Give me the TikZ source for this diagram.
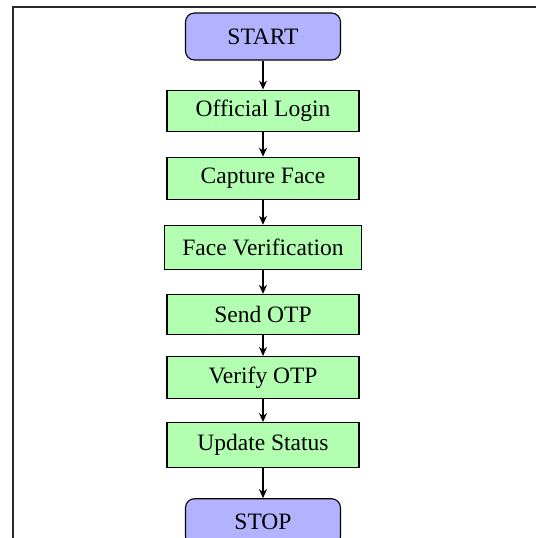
\documentclass[tikz,border=0pt]{standalone}
\usepackage{fontspec}
\setmainfont{Liberation Serif}
\usetikzlibrary{positioning,arrows.meta}
\definecolor{myviolet}{RGB}{178,178,255}
\definecolor{mygreen}{RGB}{178,255,178}
\definecolor{myframe}{RGB}{40,40,40}

\begin{document}
\begin{tikzpicture}[x=1pt,y=1pt,line width=1.1pt,
  font=\fontsize{23.5}{27}\selectfont,
  term/.style={draw,fill=myviolet,rounded corners=9pt,minimum width=155pt,minimum height=47pt},
  proc/.style={draw,fill=mygreen,minimum width=192pt,minimum height=42pt},
  flow/.style={-{Stealth[length=9pt,width=8pt]}}]

  \useasboundingbox (0,0) rectangle (536,-538);
  \draw[myframe,line width=1.5pt] (13,-538) -- (13,-7) -- (536,-7);

  \node[term] (start) at (263,-36.5) {START};
  \node[proc,below=29pt of start,minimum height=41pt] (login) {Official Login};
  \node[proc,below=25pt of login] (capture) {Capture Face};
  \node[proc,below=25pt of capture,minimum width=197pt,minimum height=44pt] (faceverify) {Face Verification};
  \node[proc,below=24pt of faceverify,minimum height=40pt] (sendotp) {Send OTP};
  \node[proc,below=21pt of sendotp] (verifyotp) {Verify OTP};
  \node[proc,below=23pt of verifyotp,minimum height=45pt] (update) {Update Status};
  \node[term,below=30pt of update] (stop) {STOP};

  % arrows between the steps
  \foreach \a/\b in {start/login,login/capture,capture/faceverify,faceverify/sendotp,
    sendotp/verifyotp,verifyotp/update,update/stop}
    \draw[flow] (\a) -- (\b);

\end{tikzpicture}
\end{document}
